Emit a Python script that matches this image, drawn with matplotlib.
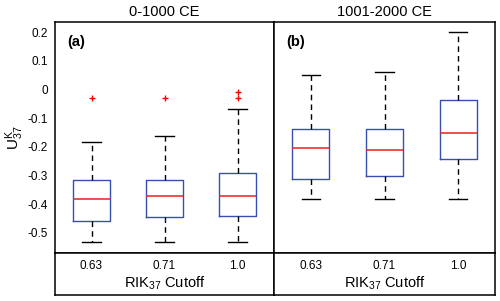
import matplotlib.pyplot as plt
import matplotlib.transforms as mtransforms

plt.rcParams['font.family'] = ['Liberation Sans', 'DejaVu Sans']
plt.rcParams['mathtext.fontset'] = 'custom'
plt.rcParams['mathtext.rm'] = 'Liberation Sans'
plt.rcParams['mathtext.it'] = 'Liberation Sans'

# 数据
cutoffs = ['0.63', '0.71', '1.0']
periods = ['0-1000 CE', '1001-2000 CE']
panel_tags = ['(a)', '(b)']

a_whislo = [-0.532, -0.532, -0.532]
a_q1 = [-0.457, -0.445, -0.442]
a_med = [-0.382, -0.372, -0.372]
a_q3 = [-0.314, -0.314, -0.291]
a_whishi = [-0.182, -0.161, -0.069]
a_fliers = [[-0.031], [-0.031], [-0.010, -0.031]]

b_whislo = [-0.381, -0.381, -0.381]
b_q1 = [-0.312, -0.303, -0.242]
b_med = [-0.205, -0.211, -0.152]
b_q3 = [-0.139, -0.139, -0.038]
b_whishi = [0.050, 0.062, 0.200]
b_fliers = [[], [], []]

yticks = [0.2, 0.1, 0, -0.1, -0.2, -0.3, -0.4, -0.5]
ytick_labels = ['0.2', '0.1', '0', '-0.1', '-0.2', '-0.3', '-0.4', '-0.5']


def make_stats(lo, q1, med, q3, hi, fl):
    return [dict(whislo=lo[i], q1=q1[i], med=med[i], q3=q3[i], whishi=hi[i],
                 fliers=fl[i], label=cutoffs[i]) for i in range(len(cutoffs))]


panels = [make_stats(a_whislo, a_q1, a_med, a_q3, a_whishi, a_fliers),
          make_stats(b_whislo, b_q1, b_med, b_q3, b_whishi, b_fliers)]

fig = plt.figure(figsize=(5, 3.01), dpi=100)

lefts = [0.11, 0.548]
widths = [0.438, 0.442]
top, main_bot, strip_bot = 0.927, 0.1595, 0.02

box_col = '#3a4db3'
for k in range(2):
    ax = fig.add_axes([lefts[k], main_bot, widths[k], top - main_bot])
    ax.bxp(panels[k], positions=[1, 2, 3], widths=0.5, showfliers=True,
           boxprops=dict(color=box_col, linewidth=1.0),
           medianprops=dict(color='#f01e1e', linewidth=1.1),
           whiskerprops=dict(color='black', linewidth=1.0, linestyle=(0, (4, 3))),
           capprops=dict(color='black', linewidth=1.0),
           capwidths=0.25,
           flierprops=dict(marker='+', markeredgecolor='red', markersize=5,
                           markeredgewidth=1.0, linestyle='none'))
    ax.set_xlim(0.5, 3.5)
    ax.set_ylim(-0.57, 0.235)
    ax.set_xticks([])
    ax.set_yticks(yticks)
    if k == 0:
        ax.set_yticklabels(ytick_labels, fontsize=8.5)
        ax.tick_params(axis='y', length=0, pad=5)
        ax.set_ylabel(r'U$^{\mathrm{K}}_{37}$', fontsize=11, labelpad=1)
    else:
        ax.set_yticklabels([])
        ax.tick_params(axis='y', length=0)
    for sp in ax.spines.values():
        sp.set_linewidth(1.1)
    ax.set_title(periods[k], fontsize=10.5, pad=4)
    ax.text(0.055, 0.915, panel_tags[k], transform=ax.transAxes,
            fontsize=10.5, fontweight='bold', va='center', ha='left')

    # 底部标签条
    strip = fig.add_axes([lefts[k], strip_bot, widths[k], main_bot - strip_bot])
    strip.set_xlim(0.5, 3.5)
    strip.set_ylim(0, 1)
    strip.set_xticks([])
    strip.set_yticks([])
    for sp in strip.spines.values():
        sp.set_linewidth(1.1)
    trans = mtransforms.blended_transform_factory(strip.transData, strip.transAxes)
    for i, lab in enumerate(cutoffs):
        strip.text(i + 1, 0.7, lab, transform=trans, ha='center', va='center', fontsize=8.5)
    strip.text(0.5, 0.28, r'RIK$_{37}$ Cutoff', transform=strip.transAxes,
               ha='center', va='center', fontsize=10.5)

fig.savefig('out.png', dpi=100, facecolor='white')
